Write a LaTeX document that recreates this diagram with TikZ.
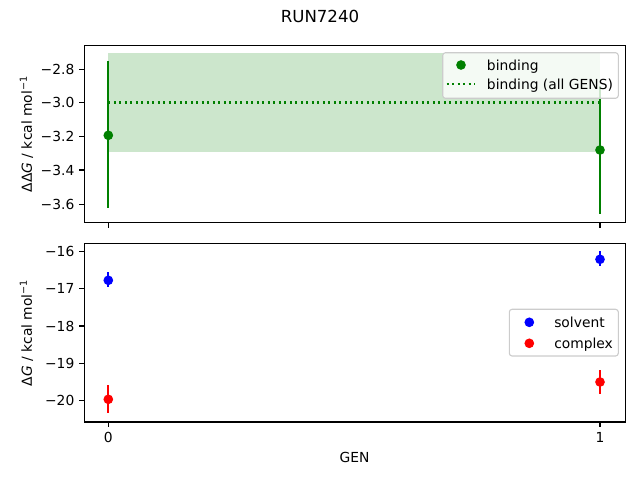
\documentclass[tikz,border=0pt]{standalone}
\usepackage{fontspec}
\setmainfont{DejaVu Sans}
\definecolor{mgreen}{RGB}{0,128,0}
\definecolor{fillg}{RGB}{204,230,204}
\definecolor{legedge}{RGB}{204,204,204}
\definecolor{mblue}{RGB}{0,0,255}
\definecolor{mred}{RGB}{255,0,0}
\begin{document}
\begin{tikzpicture}[x=0.7227pt,y=-0.7227pt,
  font=\fontsize{10}{12}\selectfont,
  frame/.style={draw=black,line width=0.8pt},
  tickmark/.style={draw=black,line width=0.8pt},
  ticklab/.style={inner sep=0pt,anchor=east},
  xticklab/.style={inner sep=0pt,anchor=center},
  ebar/.style={line width=1.5pt},
  dot/.style={circle,inner sep=0pt,minimum size=7pt},
  legbox/.style={draw=legedge,fill=white,fill opacity=0.8,line width=0.8pt,rounded corners=2pt},
  legtext/.style={inner sep=0pt,anchor=base west},
  dotline/.style={draw=mgreen,line width=1.5pt,dash pattern=on 1.5pt off 2.475pt}]
\useasboundingbox (0,0) rectangle (640,480);

% title
\node[font=\fontsize{12}{14}\selectfont] (title) at (320,16.3) {RUN7240};

% ---------- top axes ----------
\fill[fillg] (108.3,53.3) rectangle (600,151.7);
\draw[dotline] (108.3,102.5) -- (600,102.5);
\draw[ebar,mgreen] (108.3,61) -- (108.3,208.3);
\node[dot,fill=mgreen] (b0) at (108.3,135.3) {};
\draw[ebar,mgreen] (600,86) -- (600,214.3);
\node[dot,fill=mgreen] (b1) at (600,150) {};

\draw[frame] (84.3,45.3) rectangle (625.7,222.7);
\foreach \yy/\lab in {69.3/−2.8,102.5/−3.0,136.2/−3.2,170.0/−3.4,204.3/−3.6}{
  \draw[tickmark] (84.3,\yy) -- (79.4,\yy);
  \node[ticklab] at (74.6,\yy) {\lab};
}
\draw[tickmark] (108.3,222.7) -- (108.3,227.6);
\draw[tickmark] (600,222.7) -- (600,227.6);
\node[rotate=90] (ylabtop) at (26.5,134) {ΔΔ{\itshape G} / kcal mol\textsuperscript{−1}};

% top legend
\draw[legbox] (442.7,52.7) rectangle (618.3,98.3);
\node[dot,fill=mgreen] (lb) at (461,65) {};
\node[legtext] (lbt) at (486.7,70) {binding};
\coordinate (la) at (446.7,84);
\coordinate (lz) at (475,84);
\draw[dotline] (la) -- (lz);
\node[legtext] (lat) at (486.7,89) {binding (all GENS)};

% ---------- bottom axes ----------
\draw[ebar,mblue] (108.3,272.3) -- (108.3,286.7);
\node[dot,fill=mblue] (s0) at (108.3,280.3) {};
\draw[ebar,mred] (108.3,385) -- (108.3,413.3);
\node[dot,fill=mred] (c0) at (108.3,399.3) {};
\draw[ebar,mblue] (600,251) -- (600,265.7);
\node[dot,fill=mblue] (s1) at (600,259.3) {};
\draw[ebar,mred] (600,370) -- (600,394);
\node[dot,fill=mred] (c1) at (600,382) {};

\draw[frame] (84.3,243.3) rectangle (625.5,422);
\foreach \yy/\lab in {251.7/−16,288.9/−17,326.0/−18,363.2/−19,400.3/−20}{
  \draw[tickmark] (84.3,\yy) -- (79.4,\yy);
  \node[ticklab] at (74.6,\yy) {\lab};
}
\draw[tickmark] (108.3,422) -- (108.3,426.9);
\draw[tickmark] (600,422) -- (600,426.9);
\node[xticklab] (x0) at (108.3,437.3) {0};
\node[xticklab] (x1) at (600,437.3) {1};
\node (xlab) at (354.5,457.3) {GEN};
\node[rotate=90] (ylabbot) at (26.5,332.7) {Δ{\itshape G} / kcal mol\textsuperscript{−1}};

% bottom legend
\draw[legbox] (509.3,309.3) rectangle (618.3,356);
\node[dot,fill=mblue] (ls) at (529.3,322.3) {};
\node[legtext] (lst) at (554,327.3) {solvent};
\node[dot,fill=mred] (lc) at (529.3,343.3) {};
\node[legtext] (lct) at (554,348.3) {complex};
\end{tikzpicture}
\end{document}
